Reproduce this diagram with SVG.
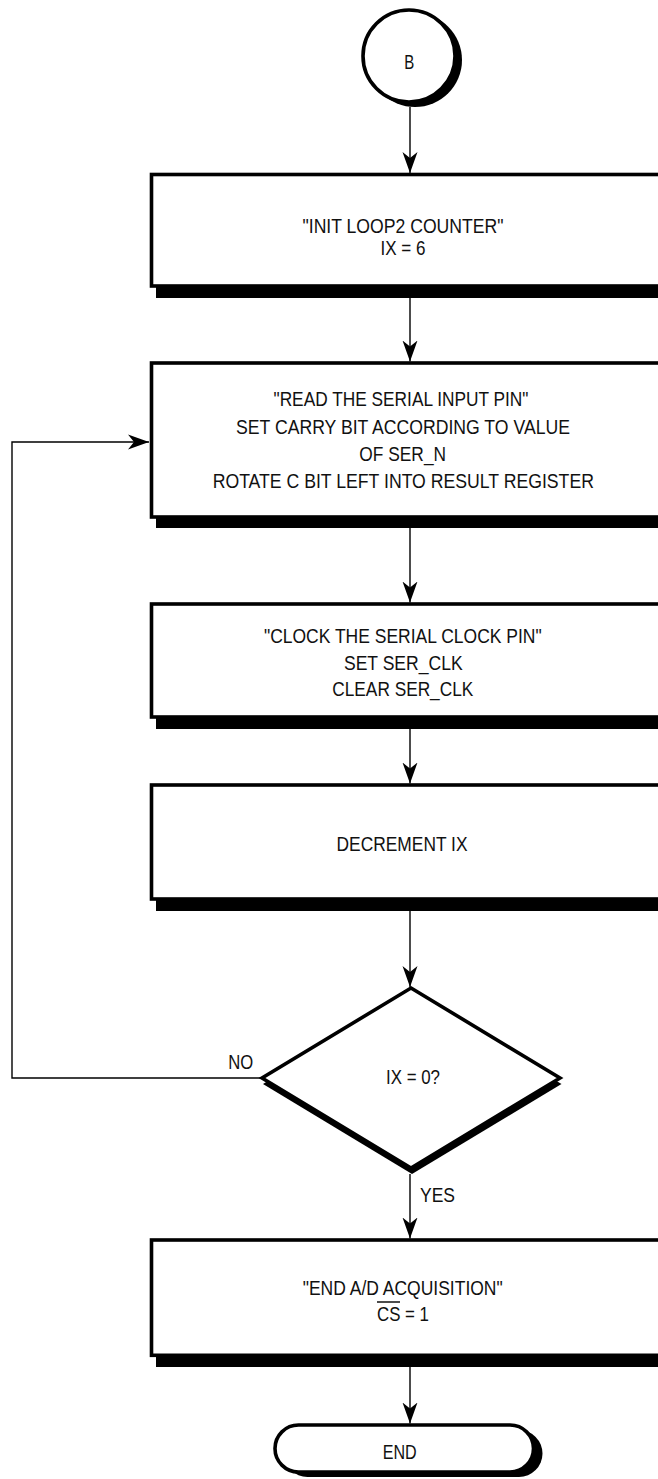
<svg xmlns="http://www.w3.org/2000/svg" width="658" height="1479" viewBox="0 0 658 1479">
<style>
  text { font-family: "Liberation Sans", Arial, sans-serif; font-size: 21px; fill: #111; text-anchor: middle; }
  .box { fill: #fff; stroke: #000; stroke-width: 3.6; }
  .shadow { fill: #000; stroke: none; }
  .conn { fill: none; stroke: #000; stroke-width: 1.4; }
</style>
<defs>
  <marker id="ah" viewBox="-21 -8 22 16" refX="0" refY="0" markerWidth="22" markerHeight="16" markerUnits="userSpaceOnUse" orient="auto">
    <path d="M0,0 L-21,-7.5 L-15,0 L-21,7.5 Z" fill="#000"/>
  </marker>
</defs>

<g id="node-b">
  <circle class="shadow" cx="415" cy="60" r="47"/>
  <circle class="box" cx="409" cy="56" r="46"/>
  <text x="409.3" y="69" textLength="10" lengthAdjust="spacingAndGlyphs">B</text>
</g>

<g id="node-init">
  <rect class="shadow" x="156" y="180" width="520" height="118"/>
  <rect class="box" x="151.5" y="174.5" width="520" height="111.5"/>
  <text x="403" y="232.5" textLength="201" lengthAdjust="spacingAndGlyphs">"INIT LOOP2 COUNTER"</text>
  <text x="403" y="254.5" textLength="45" lengthAdjust="spacingAndGlyphs">IX = 6</text>
</g>

<g id="node-read">
  <rect class="shadow" x="156" y="370" width="520" height="158"/>
  <rect class="box" x="151.5" y="363" width="520" height="154"/>
  <text x="401" y="405.5" textLength="255" lengthAdjust="spacingAndGlyphs">"READ THE SERIAL INPUT PIN"</text>
  <text x="403" y="433.5" textLength="334" lengthAdjust="spacingAndGlyphs">SET CARRY BIT ACCORDING TO VALUE</text>
  <text x="402.7" y="460.5" textLength="86.7" lengthAdjust="spacingAndGlyphs">OF SER_N</text>
  <text x="403.3" y="487.5" textLength="381.3" lengthAdjust="spacingAndGlyphs">ROTATE C BIT LEFT INTO RESULT REGISTER</text>
</g>

<g id="node-clock">
  <rect class="shadow" x="156" y="610" width="520" height="119"/>
  <rect class="box" x="151.5" y="604" width="520" height="113"/>
  <text x="402.8" y="642.5" textLength="277.7" lengthAdjust="spacingAndGlyphs">"CLOCK THE SERIAL CLOCK PIN"</text>
  <text x="403.3" y="669.5" textLength="118.7" lengthAdjust="spacingAndGlyphs">SET SER_CLK</text>
  <text x="402.8" y="696" textLength="141" lengthAdjust="spacingAndGlyphs">CLEAR SER_CLK</text>
</g>

<g id="node-decrement">
  <rect class="shadow" x="156" y="791" width="520" height="120"/>
  <rect class="box" x="151.5" y="785" width="520" height="114"/>
  <text x="402" y="850.5" textLength="131" lengthAdjust="spacingAndGlyphs">DECREMENT IX</text>
</g>

<g id="node-decision">
  <polygon class="shadow" points="412,994 561.5,1084 412,1174 263,1084" stroke="#000" stroke-width="3"/>
  <polygon class="box" points="411,988 560,1078 411,1168 262,1078" stroke-width="3"/>
  <text x="413" y="1084" textLength="54" lengthAdjust="spacingAndGlyphs">IX = 0?</text>
</g>

<g id="node-end-acq">
  <rect class="shadow" x="156" y="1246" width="520" height="121"/>
  <rect class="box" x="151.5" y="1240" width="520" height="115.3"/>
  <text x="402.7" y="1294.5" textLength="200" lengthAdjust="spacingAndGlyphs">"END A/D ACQUISITION"</text>
  <text x="403" y="1320.5" textLength="52" lengthAdjust="spacingAndGlyphs">CS = 1</text>
  <line x1="377" y1="1302" x2="400" y2="1302" stroke="#111" stroke-width="1.5"/>
</g>

<g id="node-end">
  <rect class="shadow" x="284" y="1430" width="258.5" height="47" rx="23.5" ry="23.5"/>
  <rect class="box" x="275" y="1425" width="258.5" height="47" rx="23.5" ry="23.5" stroke-width="3.4"/>
  <text x="399.7" y="1459" textLength="34" lengthAdjust="spacingAndGlyphs">END</text>
</g>

<g id="connectors">
  <line class="conn" x1="410" y1="107" x2="410" y2="173" marker-end="url(#ah)"/>
  <line class="conn" x1="410" y1="298" x2="410" y2="361.5" marker-end="url(#ah)"/>
  <line class="conn" x1="410" y1="528" x2="410" y2="602.5" marker-end="url(#ah)"/>
  <line class="conn" x1="410" y1="729" x2="410" y2="783.5" marker-end="url(#ah)"/>
  <line class="conn" x1="410" y1="911" x2="410" y2="987" marker-end="url(#ah)"/>
  <line class="conn" x1="410" y1="1174" x2="410" y2="1238.5" marker-end="url(#ah)"/>
  <line class="conn" x1="410" y1="1367" x2="410" y2="1423.5" marker-end="url(#ah)"/>
  <polyline class="conn" points="262,1078 12,1078 12,442 149,442" marker-end="url(#ah)"/>
  <text x="240.8" y="1069" textLength="25" lengthAdjust="spacingAndGlyphs">NO</text>
  <text x="437.5" y="1202" textLength="35" lengthAdjust="spacingAndGlyphs">YES</text>
</g>
</svg>
